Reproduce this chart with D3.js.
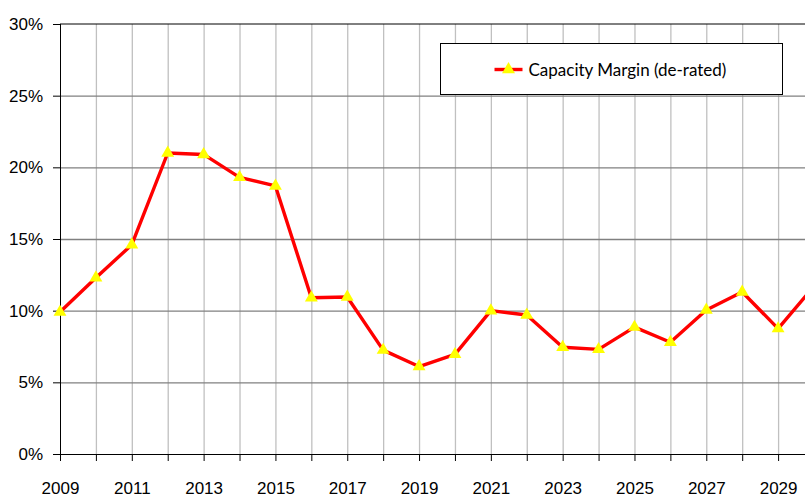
<!DOCTYPE html>
<html>
<head>
<meta charset="utf-8">
<script src="https://cdn.jsdelivr.net/npm/d3@7"></script>
<style>
  html,body{margin:0;padding:0;background:#fff;overflow:hidden;}
  svg{display:block;font-family:Lato,"Open Sans",sans-serif;}
  .axis text{font-size:17px;fill:#000;}
  .axis path,.axis line{stroke:#000;}
</style>
</head>
<body>
<div id="chart"></div>
<script>
const years=[2009,2010,2011,2012,2013,2014,2015,2016,2017,2018,2019,2020,2021,2022,2023,2024,2025,2026,2027,2028,2029,2030];
const margin=[9.9,12.3,14.6,21.0,20.9,19.3,18.7,10.9,10.95,7.25,6.1,6.95,10.0,9.7,7.45,7.3,8.85,7.8,10.05,11.3,8.75,11.7];
const yTicks=[0,5,10,15,20,25,30];
const seriesName='Capacity Margin (de-rated)';

const W=805,H=497,m={t:24,r:-9,b:43,l:60};
const w=W-m.l-m.r,h=H-m.t-m.b;
const data=years.map((y,i)=>({year:y,v:margin[i]}));

const svg=d3.select('#chart').append('svg').attr('width',W).attr('height',H);
const g=svg.append('g').attr('transform',`translate(${m.l},${m.t})`);

const x=d3.scaleLinear().domain([2009,2030]).range([0,w]);
const y=d3.scaleLinear().domain([0,30]).range([h,0]);

// grid
g.append('g').call(d3.axisBottom(x).tickValues(years.slice(1)).tickSize(h).tickFormat(''))
  .call(s=>s.select('.domain').remove())
  .selectAll('line').attr('stroke','#c0c0c0').attr('stroke-width',1.3);
g.append('g').call(d3.axisLeft(y).tickValues(yTicks.slice(1,-1)).tickSize(-w).tickFormat(''))
  .call(s=>s.select('.domain').remove())
  .selectAll('line').attr('stroke','#808080').attr('stroke-width',1.3);
// top border
g.append('line').attr('x1',0).attr('x2',w).attr('y1',y(30)).attr('y2',y(30)).attr('stroke','#000');

// axes
g.append('g').attr('class','axis').call(d3.axisLeft(y).tickValues(yTicks).tickSize(7).tickPadding(10).tickFormat(d=>d+'%'))
  .call(s=>s.select('.domain').attr('d',`M0.5,${y(30)}V${y(0)}`));
g.append('g').attr('class','axis').attr('transform',`translate(0,${h})`)
  .call(d3.axisBottom(x).tickValues(years).tickSize(7).tickPadding(21).tickFormat(d=>d%2===1?d:''))
  .call(s=>s.select('.domain').attr('d',`M0,0.5H${w}`));

// series
const tri=d3.symbol().type(d3.symbolTriangle).size(72);
g.append('path').datum(data).attr('fill','none').attr('stroke','#ff0000').attr('stroke-width',3.4).attr('stroke-linejoin','round')
  .attr('d',d3.line().x(d=>x(d.year)).y(d=>y(d.v)));
g.selectAll('.pt').data(data).join('path').attr('class','pt')
  .attr('transform',d=>`translate(${x(d.year)},${y(d.v)})`).attr('d',tri).attr('fill','#ffff00');

// legend
const leg=svg.append('g').attr('transform','translate(440.5,43.5)');
leg.append('rect').attr('width',342).attr('height',51).attr('fill','#fff').attr('stroke','#000');
leg.append('line').attr('x1',54).attr('x2',82).attr('y1',26).attr('y2',26).attr('stroke','#ff0000').attr('stroke-width',3.4);
leg.append('path').attr('transform','translate(68,26)').attr('d',tri).attr('fill','#ffff00');
leg.append('text').attr('x',88).attr('y',32).attr('font-size',17).attr('fill','#000').text(seriesName);
</script>
</body>
</html>
